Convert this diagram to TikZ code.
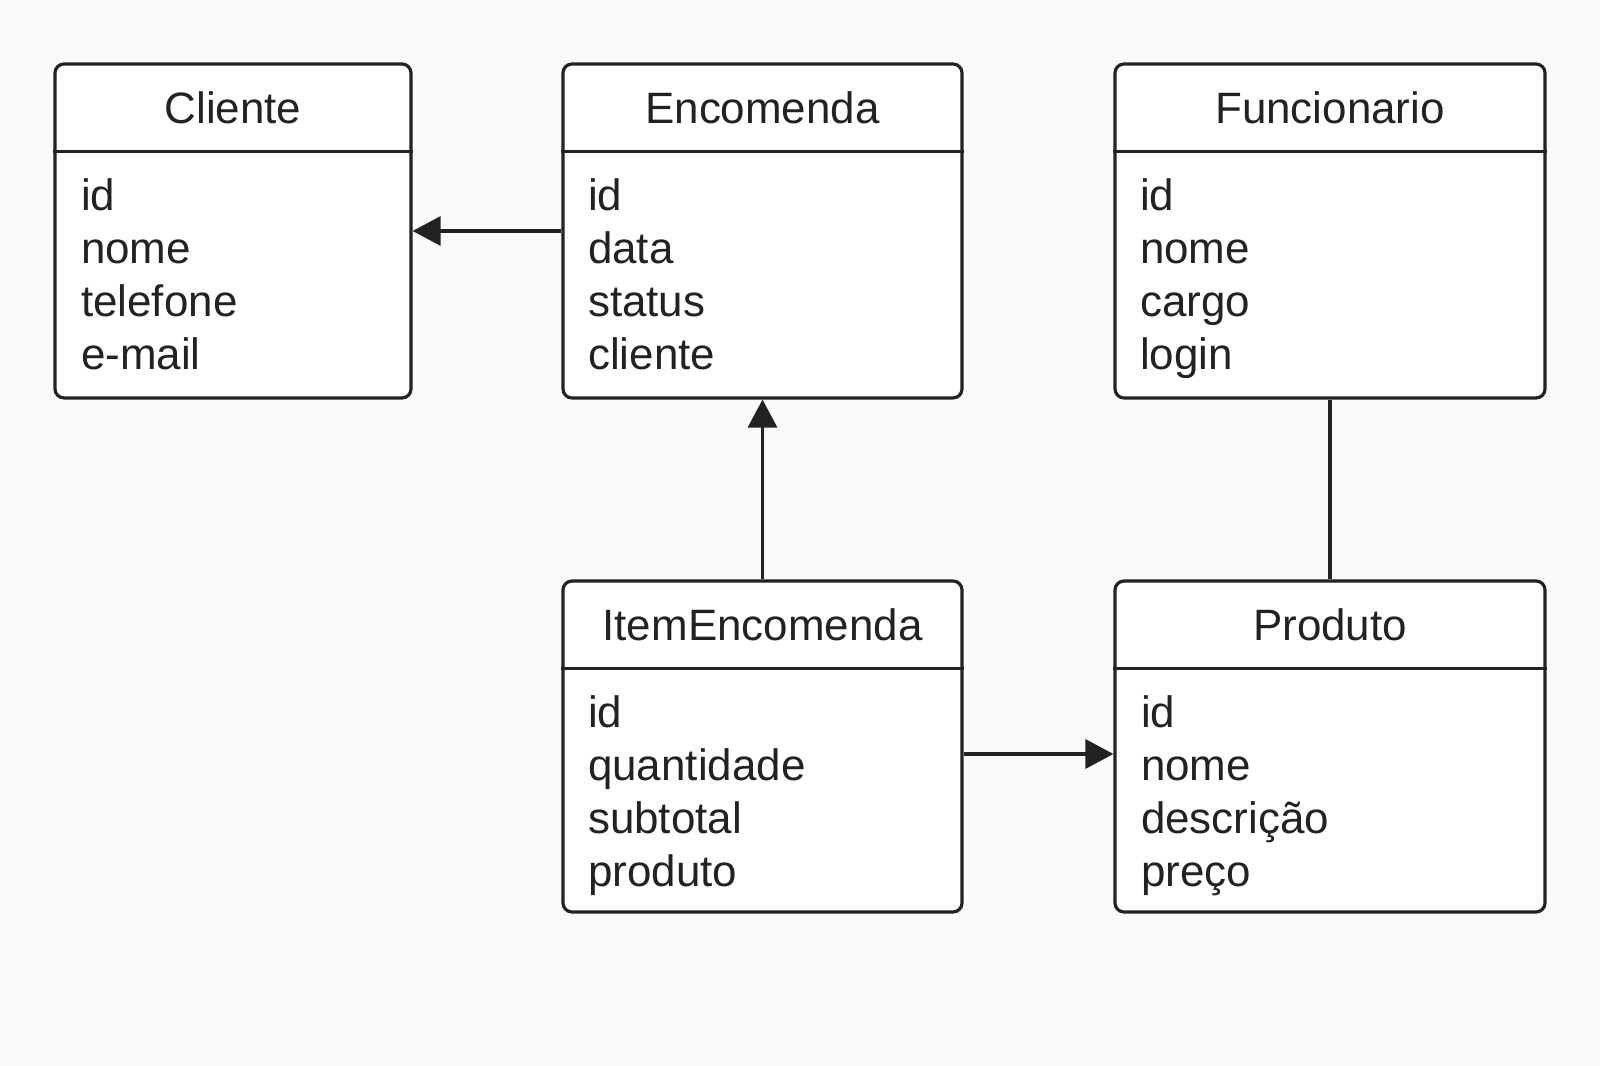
\documentclass[tikz,border=0pt]{standalone}
\usepackage{fontspec}
\setmainfont{Liberation Sans}
\usetikzlibrary{arrows.meta,calc}
\definecolor{traco}{HTML}{222222}
\definecolor{fundo}{HTML}{FAFAFA}
\tikzset{
  classe/.style={draw=traco,line width=0.9pt,rounded corners=0.09cm,fill=white,inner sep=0pt},
  titulo/.style={font=\fontsize{12.5}{15}\selectfont,text=traco,anchor=base,inner sep=0pt},
  atributo/.style={font=\fontsize{12.5}{15}\selectfont,text=traco,anchor=base west,inner sep=0pt},
  seta/.style={draw=traco,line width=0.9pt,-{Triangle[length=0.28cm,width=0.29cm]}},
  ligacao/.style={draw=traco,line width=0.9pt}
}

\begin{document}
\begin{tikzpicture}
        \fill[fundo] (0,0) rectangle (16,10.66) ;
        \useasboundingbox (0,0) rectangle (16,10.66) ;
        % caixas das classes
        \node[classe,minimum width=3.56cm,minimum height=3.34cm] (cliente) at (2.33,8.35) {} ;
        \node[classe,minimum width=3.99cm,minimum height=3.34cm] (encomenda) at (7.625,8.35) {} ;
        \node[classe,minimum width=4.30cm,minimum height=3.34cm] (funcionario) at (13.30,8.35) {} ;
        \node[classe,minimum width=3.99cm,minimum height=3.31cm] (item) at (7.625,3.195) {} ;
        \node[classe,minimum width=4.30cm,minimum height=3.31cm] (produto) at (13.30,3.195) {} ;
        % linhas do cabecalho
        \foreach \c in {cliente,encomenda,funcionario,item,produto}
          \draw[ligacao] ($(\c.north west)+(0,-0.89)$) -- ($(\c.north east)+(0,-0.89)$) ;
        % titulos
        \node[titulo] (cliente-t) at ($(cliente.north)+(0,-0.61)$) {Cliente} ;
        \node[titulo] (encomenda-t) at ($(encomenda.north)+(0,-0.61)$) {Encomenda} ;
        \node[titulo] (funcionario-t) at ($(funcionario.north)+(0,-0.61)$) {Funcionario} ;
        \node[titulo] (item-t) at ($(item.north)+(0,-0.61)$) {ItemEncomenda} ;
        \node[titulo] (produto-t) at ($(produto.north)+(0,-0.61)$) {Produto} ;
        % atributos
        \foreach \a [count=\i] in {id,nome,telefone,e-mail}
          \node[atributo] (cliente-\i) at ($(cliente.north west)+(0.27,{-0.95-0.53*\i})$) {\a} ;
        \foreach \a [count=\i] in {id,data,status,cliente}
          \node[atributo] (encomenda-\i) at ($(encomenda.north west)+(0.26,{-0.95-0.53*\i})$) {\a} ;
        \foreach \a [count=\i] in {id,nome,cargo,login}
          \node[atributo] (funcionario-\i) at ($(funcionario.north west)+(0.26,{-0.95-0.53*\i})$) {\a} ;
        \foreach \a [count=\i] in {id,quantidade,subtotal,produto}
          \node[atributo] (item-\i) at ($(item.north west)+(0.26,{-0.95-0.53*\i})$) {\a} ;
        \foreach \a [count=\i] in {id,nome,descrição,preço}
          \node[atributo] (produto-\i) at ($(produto.north west)+(0.27,{-0.95-0.53*\i})$) {\a} ;
        % ligacoes
        \draw[seta] (encomenda.west) -- (cliente.east) ;
        \draw[seta] (item.north) -- (encomenda.south) ;
        \draw[ligacao] (funcionario.south) -- (produto.north) ;
        \draw[seta] ([yshift=-0.075cm]item.east) -- ([yshift=-0.075cm]produto.west) ;
\end{tikzpicture}
\end{document}
